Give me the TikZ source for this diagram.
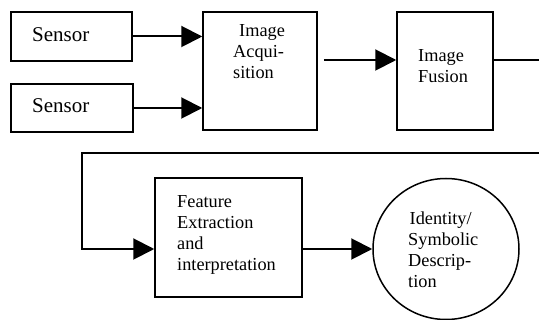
\documentclass[tikz,border=0pt]{standalone}
\usepackage{fontspec}
\setmainfont{Liberation Serif}
\usetikzlibrary{arrows.meta,shapes.geometric}
\begin{document}
\begin{tikzpicture}[x=1pt,y=-1pt,
  box/.style={draw,line width=1.5pt,rectangle,inner sep=0pt},
  lbl/.style={anchor=base west,inner sep=0pt,align=left,
    font=\fontsize{18.3}{21}\selectfont},
  biglbl/.style={anchor=base west,inner sep=0pt,
    font=\fontsize{21}{24}\selectfont},
  arr/.style={line width=2pt,-{Triangle[length=21pt,width=21pt]}},
  wire/.style={line width=2pt}]
\useasboundingbox (0,0) rectangle (539,320);

% boxes
\node[box,minimum width=121pt,minimum height=49pt] (s1) at (71.5,36.5) {};
\node[box,minimum width=122pt,minimum height=48pt] (s2) at (72,108) {};
\node[box,minimum width=114pt,minimum height=118pt] (acq) at (260,71) {};
\node[box,minimum width=96pt,minimum height=118pt] (fus) at (445,71) {};
\node[box,minimum width=147pt,minimum height=119pt] (feat) at (228.5,237.5) {};
\node[draw,line width=1.5pt,ellipse,inner sep=0pt,minimum width=146pt,minimum height=141pt] (id) at (446,249) {};

% labels (each placed by the baseline of its last line)
\node[biglbl] (t1) at (32,42) {Sensor};
\node[biglbl] (t2) at (32,113) {Sensor};
\node[lbl] (tacq) at (233,79) {\hspace{6pt}Image\\Acqui-\\sition};
\node[lbl] (tfus) at (418,83) {Image\\Fusion};
\node[lbl] (tfeat) at (177,271) {Feature\\Extraction\\and\\interpretation};
\node[lbl] (tid) at (408,288) {\hspace{1.5pt}Identity/\\Symbolic\\Descrip-\\tion};

% connectors
\draw[arr] (s1.east) -- (acq.west |- s1.east);
\draw[arr] (s2.east) -- (acq.west |- s2.east);
\draw[arr] ([xshift=6pt,yshift=11pt]acq.east) -- ([yshift=11pt]fus.west);
\coordinate (out) at (539,60);
\coordinate (back) at (539,153);
\draw[wire] ([yshift=11pt]fus.east) -- (out);
\draw[arr] (back) -| ([xshift=-72pt,yshift=-11.5pt]feat.west) -- ([yshift=-11.5pt]feat.west);
\draw[arr] ([yshift=-11.5pt]feat.east) -- (id.west);
\end{tikzpicture}
\end{document}
